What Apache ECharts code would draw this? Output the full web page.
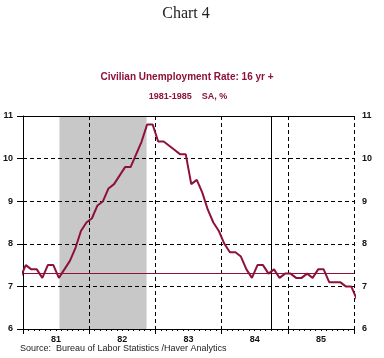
<!DOCTYPE html>
<html>
<head>
<meta charset="utf-8">
<script src="https://cdn.jsdelivr.net/npm/echarts@6/dist/echarts.min.js"></script>
<style>
html,body{margin:0;padding:0;background:#fff;}
#c{width:384px;height:358px;}
</style>
</head>
<body>
<div id="c"></div>
<script>
// Year labels (x axis)
var years = ['81', '82', '83', '84', '85'];
// Monthly civilian unemployment rate, Dec 1980 .. Jan 1986 (SA, %)
var rateDec1980 = 7.2;
var rate1981 = [7.5, 7.4, 7.4, 7.2, 7.5, 7.5, 7.2, 7.4, 7.6, 7.9, 8.3, 8.5];
var rate1982 = [8.6, 8.9, 9.0, 9.3, 9.4, 9.6, 9.8, 9.8, 10.1, 10.4, 10.8, 10.8];
var rate1983 = [10.4, 10.4, 10.3, 10.2, 10.1, 10.1, 9.4, 9.5, 9.2, 8.8, 8.5, 8.3];
var rate1984 = [8.0, 7.8, 7.8, 7.7, 7.4, 7.2, 7.5, 7.5, 7.3, 7.4, 7.2, 7.3];
var rate1985 = [7.3, 7.2, 7.2, 7.3, 7.2, 7.4, 7.4, 7.1, 7.1, 7.1, 7.0, 7.0];
var rateJan1986 = 6.7;
// Reference level line
var refLevel = 7.3;
// Recession span in months from Jan 1981 (Jul 1981 - Nov 1982)
var recessionStart = 6.6;
var recessionEnd = 22.4;
// Event marker (months from Jan 1981): Oct 1984
var eventMonth = 45;
// Y tick range
var yMin = 6, yMax = 11, yStep = 1;

var all = [rateDec1980].concat(rate1981, rate1982, rate1983, rate1984, rate1985, [rateJan1986]);
var lineData = all.map(function (v, i) { return [i - 1 + 0.5, v]; });

var red = '#8e1237';
var lab = { color: '#111', fontFamily: 'Arial, Liberation Sans', fontWeight: 'bold', fontSize: 9 };

var chart = echarts.init(document.getElementById('c'), null, { renderer: 'canvas' });
chart.setOption({
  animation: false,
  backgroundColor: '#fff',
  grid: { left: 20, right: 30, top: 116, bottom: 29, show: false },
  graphic: [
    { type: 'text', x: 186, y: 14, style: { text: 'Chart 4', textAlign: 'center', textVerticalAlign: 'middle', font: '16px "Liberation Serif", "DejaVu Serif", serif', fill: '#222' } },
    { type: 'text', x: 187, y: 77, style: { text: 'Civilian Unemployment Rate: 16 yr +', textAlign: 'center', textVerticalAlign: 'middle', font: 'bold 10px Arial, "Liberation Sans", sans-serif', fill: red } },
    { type: 'text', x: 188, y: 97, style: { text: '1981-1985    SA, %', textAlign: 'center', textVerticalAlign: 'middle', font: 'bold 9px Arial, "Liberation Sans", sans-serif', fill: red } },
    { type: 'text', x: 20, y: 349, style: { text: 'Source:  Bureau of Labor Statistics /Haver Analytics', textAlign: 'left', textVerticalAlign: 'middle', font: '9px Arial, "Liberation Sans", sans-serif', fill: '#222' } }
  ],
  xAxis: [
    {
      type: 'value', min: 0, max: 60, interval: 12, position: 'bottom', z: 2,
      axisLine: { show: true, lineStyle: { color: '#000', width: 1 } },
      axisTick: { show: true, inside: false, length: 5, lineStyle: { color: '#000' } },
      minorTick: { show: true, splitNumber: 12, length: 2, lineStyle: { color: '#000' } },
      axisLabel: { show: false },
      splitLine: { show: true, lineStyle: { color: '#000', type: [4, 3], width: 1 } }
    },
    {
      type: 'category', data: years, position: 'bottom', boundaryGap: true, z: 2,
      axisLine: { show: false }, axisTick: { show: false }, splitLine: { show: false },
      axisLabel: Object.assign({ margin: 6 }, lab)
    },
    {
      type: 'value', min: 0, max: 60, position: 'top', z: 2,
      axisLine: { show: true, onZero: false, lineStyle: { color: '#000', width: 1 } },
      axisTick: { show: false }, axisLabel: { show: false }, splitLine: { show: false }
    }
  ],
  yAxis: [
    {
      type: 'value', min: yMin, max: yMax, interval: yStep, position: 'left', z: 2,
      axisLine: { show: false },
      axisTick: { show: true, inside: false, length: 6, lineStyle: { color: '#000' } },
      axisLabel: Object.assign({ margin: 10 }, lab),
      splitLine: { show: true, lineStyle: { color: '#000', type: [4, 3], width: 1 } }
    },
    {
      type: 'value', min: yMin, max: yMax, interval: yStep, position: 'right', z: 2,
      axisLine: { show: true, lineStyle: { color: '#000', width: 1 } },
      axisTick: { show: true, inside: false, length: 4, lineStyle: { color: '#000' } },
      axisLabel: Object.assign({ margin: 8 }, lab),
      splitLine: { show: false }
    }
  ],
  series: [
    {
      type: 'line', xAxisIndex: 0, yAxisIndex: 0, data: [], z: 1, silent: true,
      markArea: {
        silent: true, z: 1,
        itemStyle: { color: '#c8c8c8' },
        data: [[{ xAxis: recessionStart, yAxis: yMin }, { xAxis: recessionEnd, yAxis: yMax }]]
      }
    },
    {
      type: 'line', xAxisIndex: 0, yAxisIndex: 0, data: lineData, clip: true,
      showSymbol: false, symbol: 'none', z: 4,
      lineStyle: { color: red, width: 2 },
      markLine: {
        silent: true, symbol: 'none', label: { show: false }, z: 3,
        data: [
          { yAxis: refLevel, lineStyle: { color: red, width: 1, type: 'solid' } },
          { xAxis: eventMonth, lineStyle: { color: '#000', width: 1, type: 'solid' } }
        ]
      }
    }
  ]
});
</script>
</body>
</html>
